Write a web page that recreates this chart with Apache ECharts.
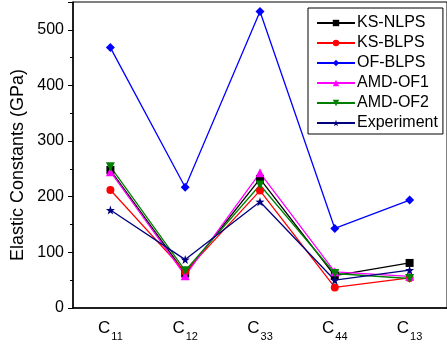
<!DOCTYPE html>
<html><head><meta charset="utf-8">
<script src="https://cdn.jsdelivr.net/npm/echarts@6/dist/echarts.min.js"></script>
<style>html,body{margin:0;padding:0;background:#fff}#c{width:447px;height:347px}</style>
</head><body><div id="c"></div>
<script>
const categories = ['11', '12', '33', '44', '13'];
const ksNLPS = [248, 62, 232, 58, 81];
const ksBLPS = [212, 65, 211, 37, 54];
const ofBLPS = [468, 217, 533, 143, 194];
const amdOF1 = [245, 58, 243, 65, 57];
const amdOF2 = [254, 67, 221, 62, 53];
const experiment = [176, 87, 191, 50, 68];
const yTicks = [0, 100, 200, 300, 400, 500];

const star = 'path://M0,-10 L2.35,-3.24 L9.51,-3.09 L3.80,1.24 L5.88,8.09 L0,4 L-5.88,8.09 L-3.8,1.24 L-9.51,-3.09 L-2.35,-3.24 Z';
const FONT = 'Liberation Sans, Arial, sans-serif';

function mk(name, data, color, symbol, size) {
  return {
    name, type: 'line', data, symbol, symbolSize: size,
    lineStyle: { color, width: 1.3 }, itemStyle: { color },
    xAxisIndex: 0, yAxisIndex: 0, animation: false
  };
}

const chart = echarts.init(document.getElementById('c'), null, { renderer: 'canvas' });
chart.setOption({
  animation: false,
  backgroundColor: '#fff',
  grid: { left: 73, right: -5, top: 2, bottom: 39, show: true, borderColor: '#000', borderWidth: 1, backgroundColor: 'transparent' },
  legend: {
    orient: 'vertical', left: 308, top: 8,
    itemWidth: 38, itemHeight: 8, itemGap: 4,
    padding: [7, 5, 3, 8],
    borderColor: '#000', borderWidth: 1, backgroundColor: '#fff',
    textStyle: { fontFamily: FONT, fontSize: 16, color: '#000', lineHeight: 16, padding: [0, 0, 0, -3] },
    data: ['KS-NLPS', 'KS-BLPS', 'OF-BLPS', 'AMD-OF1', 'AMD-OF2', 'Experiment']
  },
  xAxis: [{
    type: 'category', data: categories, position: 'bottom', boundaryGap: true,
    axisLine: { lineStyle: { color: '#000', width: 1.5 } },
    axisTick: { alignWithLabel: true, length: 5, lineStyle: { color: '#000' } },
    axisLabel: {
      margin: 12,
      formatter: v => '{c|C}{s|' + v + '}',
      rich: {
        c: { fontFamily: FONT, fontSize: 17, lineHeight: 22, verticalAlign: 'top', color: '#000' },
        s: { fontFamily: FONT, fontSize: 11, lineHeight: 22, verticalAlign: 'top', padding: [11, 0, 0, 1], color: '#000' }
      }
    },
    splitLine: { show: false }
  }, {
    type: 'category', data: categories, position: 'bottom', boundaryGap: true,
    axisLine: { show: false },
    axisTick: { length: 3, lineStyle: { color: '#000' } },
    axisLabel: { show: false }, splitLine: { show: false }
  }],
  yAxis: [{
    type: 'value', min: 0, max: 550, interval: 100,
    axisLine: { show: true, lineStyle: { color: '#000', width: 1.5 } },
    axisTick: { show: true, length: 5, lineStyle: { color: '#000' } },
    minorTick: { show: true, splitNumber: 2, length: 3, lineStyle: { color: '#000' } },
    axisLabel: { margin: 9, fontFamily: FONT, fontSize: 16, color: '#000', showMaxLabel: false,
      formatter: v => yTicks.includes(v) ? String(v) : '' },
    splitLine: { show: false }
  }],
  graphic: [{
    type: 'text', x: 18, y: 165, rotation: Math.PI / 2,
    style: { text: 'Elastic Constants (GPa)', fontFamily: FONT, fontSize: 18, fill: '#000', align: 'center', verticalAlign: 'middle' }
  }],
  series: [
    mk('KS-NLPS', ksNLPS, '#000000', 'rect', 8),
    mk('KS-BLPS', ksBLPS, '#ff0000', 'circle', 8),
    mk('OF-BLPS', ofBLPS, '#0000ff', 'diamond', 9),
    mk('AMD-OF1', amdOF1, '#ff00ff', 'triangle', 9),
    Object.assign(mk('AMD-OF2', amdOF2, '#008000', 'triangle', 9), { symbolRotate: 180 }),
    mk('Experiment', experiment, '#000080', star, 9)
  ]
});
</script></body></html>
